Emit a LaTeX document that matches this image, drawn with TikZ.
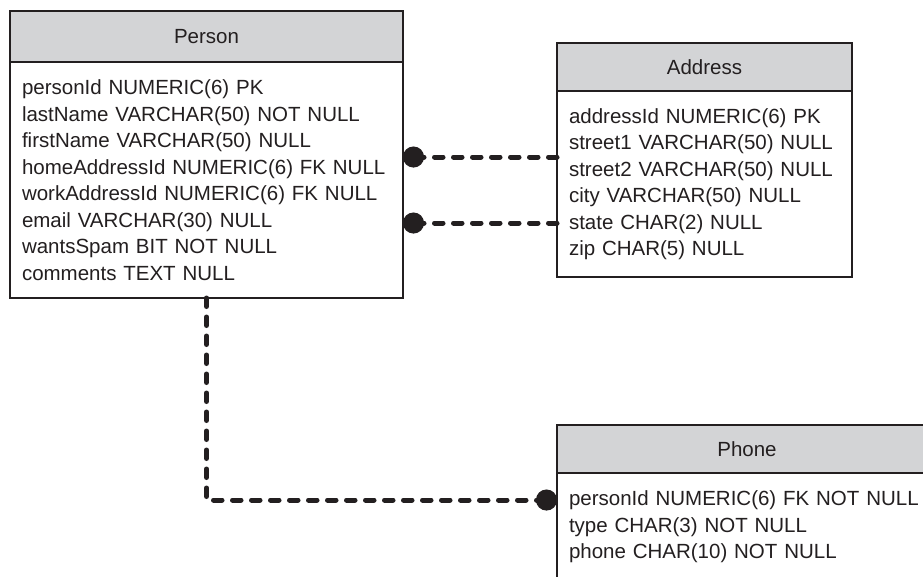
\documentclass[tikz,border=0pt]{standalone}
\usepackage{fontspec}
\setmainfont{Liberation Sans}
\usetikzlibrary{arrows.meta, positioning}
\definecolor{mainBlack}{RGB}{35,31,32}
\definecolor{headGray}{RGB}{211,212,214}
\newcommand{\erfont}{\fontsize{20.5}{26.5}\selectfont}

\tikzset{
  tablehead/.style={draw=mainBlack, fill=headGray, line width=2pt, inner sep=0pt, outer sep=0pt, text=mainBlack, font=\erfont},
  tablebody/.style={draw=mainBlack, fill=white, line width=2pt, inner xsep=12pt, inner ysep=0pt, outer sep=0pt, align=left, text=mainBlack, font=\erfont},
  fk/.style={mainBlack, line width=5pt, line cap=round, dash pattern=on 8.5pt off 10.5pt, -{Circle[length=21pt, width=21pt]}}
}

\begin{document}
\begin{tikzpicture}[x=1pt, y=-1pt]
    \clip (0,0) rectangle (923,576);

    % Person table
    \node[tablehead, anchor=north west, minimum width=393pt, minimum height=51pt] (person) at (10,11) {Person};
    \node[tablebody, below=0pt of person, text width=369pt, minimum height=236pt] (personBody) {personId NUMERIC(6) PK\\
        lastName VARCHAR(50) NOT NULL\\
        firstName VARCHAR(50) NULL\\
        homeAddressId NUMERIC(6) FK NULL\\
        workAddressId NUMERIC(6) FK NULL\\
        email VARCHAR(30) NULL\\
        wantsSpam BIT NOT NULL\\
        comments TEXT NULL};

    % Address table
    \node[tablehead, anchor=north west, minimum width=295pt, minimum height=48pt] (address) at (557,43) {Address};
    \node[tablebody, below=0pt of address, text width=271pt, minimum height=186pt] (addressBody) {addressId NUMERIC(6) PK\\
        street1 VARCHAR(50) NULL\\
        street2 VARCHAR(50) NULL\\
        city VARCHAR(50) NULL\\
        state CHAR(2) NULL\\
        zip CHAR(5) NULL};

    % Phone table
    \node[tablehead, anchor=north west, minimum width=380pt, minimum height=48pt] (phone) at (557,425) {Phone};
    \node[tablebody, below=0pt of phone, text width=356pt, minimum height=108pt] (phoneBody) {personId NUMERIC(6) FK NOT NULL\\
        type CHAR(3) NOT NULL\\
        phone CHAR(10) NOT NULL};

    % Foreign keys
    \coordinate (homeFK) at ([yshift=27pt]addressBody.west);
    \coordinate (workFK) at ([yshift=-39pt]addressBody.west);
    \draw[fk] (homeFK) -- (homeFK -| personBody.east);
    \draw[fk] (workFK) -- (workFK -| personBody.east);
    \draw[fk] (personBody.south) |- ([yshift=27pt]phoneBody.west);
\end{tikzpicture}
\end{document}
